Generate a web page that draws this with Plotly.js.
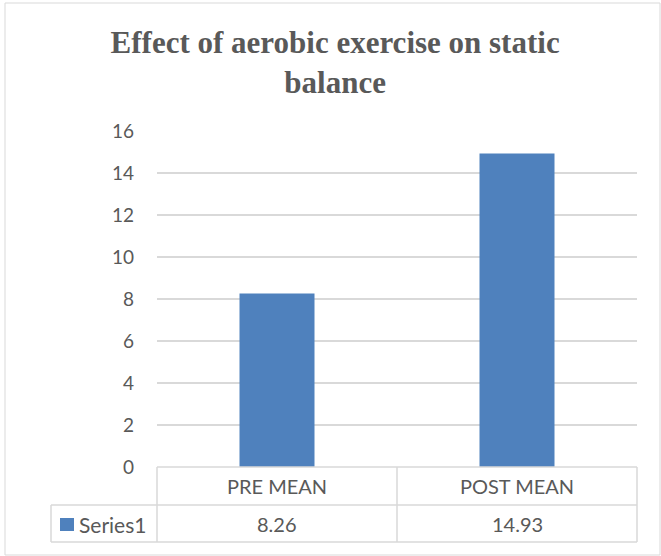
<!DOCTYPE html>
<html>
<head>
<meta charset="utf-8">
<script src="https://cdn.plot.ly/plotly-3.0.1.min.js"></script>
<style>html,body{margin:0;padding:0;background:#fff;}#chart{width:661px;height:556px;}</style>
</head>
<body>
<div id="chart"></div>
<script>
var categories = ["PRE MEAN", "POST MEAN"];
var values = [8.26, 14.93];
var valueLabels = ["8.26", "14.93"];
var seriesName = "Series1";
var yTicks = [0, 2, 4, 6, 8, 10, 12, 14, 16];

var W = 661, H = 556, L = 157, R = 637, T = 131, B = 467;
function px(x) { return (x - L) / (R - L); }
function py(y) { return (B - y) / (B - T); }

var grid = "#D9D9D9";
var txt = "#595959";
var barColor = "#4F81BD";
var sans = "Lato, 'Open Sans', sans-serif";

var shapes = [];
function line(x0, y0, x1, y1) {
  shapes.push({type: "line", xref: "paper", yref: "paper", x0: px(x0), y0: py(y0), x1: px(x1), y1: py(y1),
    line: {color: grid, width: 1.5}});
}
// outer border
shapes.push({type: "rect", xref: "paper", yref: "paper", x0: px(5), x1: px(660), y0: py(555), y1: py(3),
  line: {color: grid, width: 1}, layer: "below"});
// table
line(157, 467, 637, 467);
line(51, 505, 637, 505);
line(51, 542, 637, 542);
line(157, 467, 157, 542);
line(397, 467, 397, 542);
line(637, 467, 637, 542);
line(51, 505, 51, 542);
// legend key
shapes.push({type: "rect", xref: "paper", yref: "paper", x0: px(60), x1: px(74), y0: py(531), y1: py(518),
  line: {width: 0}, fillcolor: barColor});

var annotations = [];
for (var i = 0; i < categories.length; i++) {
  annotations.push({x: categories[i], xref: "x", y: py(486), yref: "paper", text: categories[i], showarrow: false,
    xanchor: "center", yanchor: "middle", font: {family: sans, size: 20, color: txt}});
  annotations.push({x: categories[i], xref: "x", y: py(524), yref: "paper", text: valueLabels[i], showarrow: false,
    xanchor: "center", yanchor: "middle", font: {family: sans, size: 20, color: txt}});
}
annotations.push({x: px(77), xref: "paper", y: py(524), yref: "paper", text: seriesName, showarrow: false,
  xanchor: "left", yanchor: "middle", font: {family: sans, size: 21, color: txt}});

var data = [{
  type: "bar", x: categories, y: values, name: seriesName,
  marker: {color: barColor}, hoverinfo: "none"
}];

var layout = {
  width: W, height: H,
  margin: {l: L, r: W - R, t: T, b: H - B, pad: 0},
  paper_bgcolor: "#fff", plot_bgcolor: "#fff",
  showlegend: false,
  bargap: 0.6875,
  title: {text: "Effect of aerobic exercise on static<br>balance", x: 0.507, xref: "container", xanchor: "center",
    y: 0.905, yref: "container", yanchor: "top",
    font: {family: "'Liberation Serif', 'Times New Roman', serif", size: 31, color: txt, weight: "bold"}},
  xaxis: {showticklabels: false, showgrid: false, zeroline: false, showline: false, ticks: ""},
  yaxis: {range: [0, 16], tickvals: yTicks, ticktext: yTicks.map(String), showgrid: true, gridcolor: grid, gridwidth: 1.5,
    zeroline: false, showline: false, ticks: "", ticklabelstandoff: 22,
    tickfont: {family: sans, size: 19, color: txt}},
  shapes: shapes,
  annotations: annotations
};

Plotly.newPlot("chart", data, layout, {staticPlot: true, displayModeBar: false});
</script>
</body>
</html>
